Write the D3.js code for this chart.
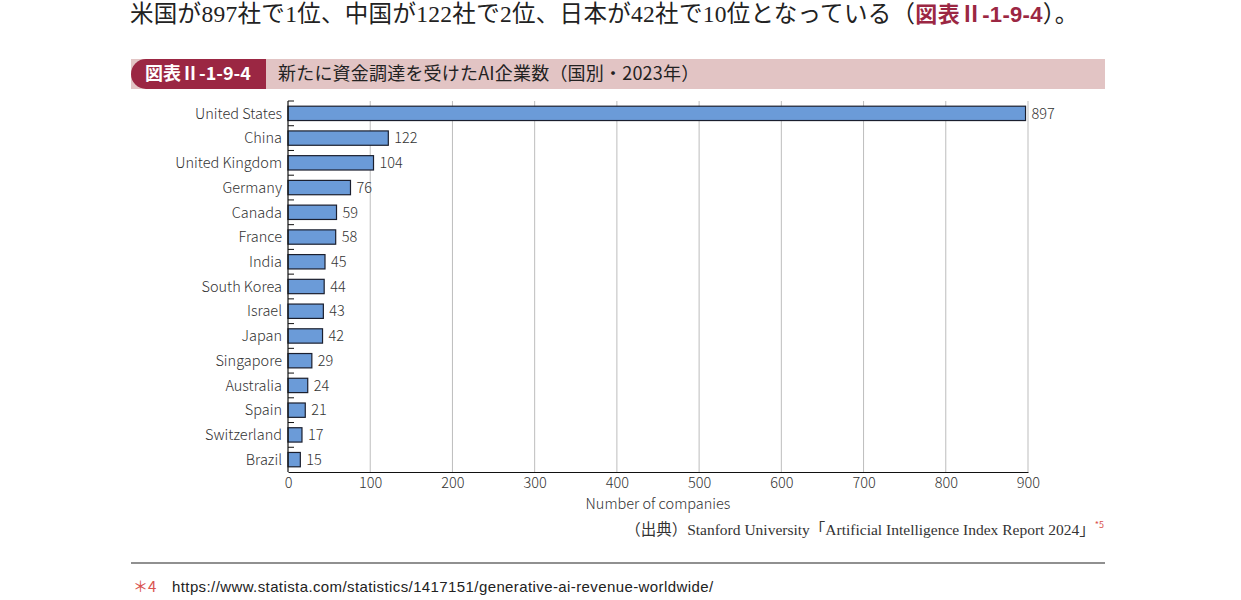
<!DOCTYPE html>
<html>
<head>
<meta charset="utf-8">
<script src="https://cdn.jsdelivr.net/npm/d3@7"></script>
<style>
  body { margin: 0; background: #fff; }
  svg text { font-family: "Noto Sans CJK JP", "Noto Sans", sans-serif; }
  .thin { font-weight: 300; }
</style>
</head>
<body>
<div class="chart"></div>
<script>
// data
const countries = ['United States', 'China', 'United Kingdom', 'Germany', 'Canada', 'France', 'India',
  'South Korea', 'Israel', 'Japan', 'Singapore', 'Australia', 'Spain', 'Switzerland', 'Brazil'];
const companies = [897, 122, 104, 76, 59, 58, 45, 44, 43, 42, 29, 24, 21, 17, 15];
const xTicks = [0, 100, 200, 300, 400, 500, 600, 700, 800, 900];

const svg = d3.select('.chart')
  .append('svg')
  .attr('width', 1241)
  .attr('height', 600);

// running text above the figure
const lead = svg.append('text')
  .attr('x', 130)
  .attr('y', 22)
  .style('font-family', '"Liberation Serif", "Noto Sans CJK JP", serif')
  .style('font-size', '23.5px')
  .style('letter-spacing', '0.3px')
  .attr('fill', '#222');
lead.append('tspan').text('米国が897社で1位、中国が122社で2位、日本が42社で10位となっている（');
lead.append('tspan').attr('fill', '#9b2743').style('font-family', '"Liberation Sans", "Noto Sans CJK JP", sans-serif')
  .style('font-weight', 'bold').style('font-size', '22px').text('図表Ⅱ-1-9-4');
lead.append('tspan').text('）。');

// title band
svg.append('rect')
  .attr('x', 131).attr('y', 59)
  .attr('width', 974).attr('height', 30)
  .attr('fill', '#e2c4c4');
svg.append('path')
  .attr('d', 'M266,59 H146 A15,15 0 0 0 146,89 H266 Z')
  .attr('fill', '#9b2743');
svg.append('text')
  .attr('x', 145).attr('y', 80)
  .attr('fill', '#fff')
  .style('font-size', '18px')
  .style('font-weight', 'bold')
  .text('図表Ⅱ-1-9-4');
svg.append('text')
  .attr('x', 278).attr('y', 80)
  .attr('fill', '#222')
  .style('font-size', '18px')
  .style('letter-spacing', '0.2px')
  .text('新たに資金調達を受けたAI企業数（国別・2023年）');

// plot area
const pLeft = 288, pRight = 1028, pTop = 101, pBottom = 472;

const x = d3.scaleLinear().domain([0, 900]).range([pLeft, pRight]);
const y = d3.scaleBand().domain(countries).range([pTop, pBottom]).paddingInner(0.42).paddingOuter(0.21);

// grid lines
svg.append('g')
  .selectAll('line')
  .data(xTicks.slice(1))
  .enter()
  .append('line')
  .attr('x1', d => x(d)).attr('x2', d => x(d))
  .attr('y1', pTop).attr('y2', pBottom)
  .attr('stroke', '#bdbdbd')
  .attr('stroke-width', 1);

// bars
svg.append('g')
  .selectAll('rect')
  .data(countries)
  .enter()
  .append('rect')
  .attr('x', x(0))
  .attr('y', d => y(d))
  .attr('width', (d, i) => x(companies[i]) - x(0))
  .attr('height', y.bandwidth())
  .attr('fill', '#6b9bd8')
  .attr('stroke', '#1b1f2e')
  .attr('stroke-width', 1.2);

// value labels
svg.append('g')
  .selectAll('text')
  .data(countries)
  .enter()
  .append('text')
  .attr('class', 'thin')
  .attr('x', (d, i) => x(companies[i]) + 6)
  .attr('y', d => y(d) + y.bandwidth() / 2)
  .attr('dy', '0.36em')
  .attr('fill', '#333')
  .style('font-size', '14.5px')
  .text((d, i) => companies[i]);

// category axis: labels + ticks at band edges pointing inward
const step = y.step();
svg.append('g')
  .selectAll('text')
  .data(countries)
  .enter()
  .append('text')
  .attr('class', 'thin')
  .attr('x', pLeft - 6)
  .attr('y', d => y(d) + y.bandwidth() / 2)
  .attr('dy', '0.36em')
  .attr('text-anchor', 'end')
  .attr('fill', '#333')
  .style('font-size', '14.5px')
  .text(d => d);

svg.append('g')
  .selectAll('line')
  .data(d3.range(countries.length))
  .enter()
  .append('line')
  .attr('x1', pLeft).attr('x2', pLeft + 6)
  .attr('y1', i => pTop + i * step).attr('y2', i => pTop + i * step)
  .attr('stroke', '#111');

svg.append('line')
  .attr('x1', pLeft).attr('x2', pLeft)
  .attr('y1', pTop).attr('y2', pBottom)
  .attr('stroke', '#111').attr('stroke-width', 1.2);

// x axis
const xAxis = svg.append('g')
  .attr('transform', `translate(0,${pBottom})`)
  .call(d3.axisBottom(x).tickValues(xTicks).tickSize(0).tickPadding(6));
xAxis.select('.domain').attr('stroke', '#111').attr('stroke-width', 1.2);
xAxis.selectAll('text')
  .attr('class', 'thin')
  .attr('fill', '#333')
  .style('font-size', '14.5px')
  .style('font-family', '"Noto Sans CJK JP", "Noto Sans", sans-serif');

svg.append('text')
  .attr('class', 'thin')
  .attr('x', (pLeft + pRight) / 2)
  .attr('y', 509)
  .attr('text-anchor', 'middle')
  .attr('fill', '#333')
  .style('font-size', '14.5px')
  .text('Number of companies');

// source with superscript note mark
const src = svg.append('text')
  .attr('x', 1104)
  .attr('y', 535)
  .attr('text-anchor', 'end')
  .style('font-family', '"Liberation Serif", "Noto Sans CJK JP", serif')
  .style('font-size', '15.5px')
  .attr('fill', '#333');
src.append('tspan').text('（出典）Stanford University「Artificial Intelligence Index Report 2024」');
src.append('tspan')
  .attr('dy', -7)
  .attr('fill', '#d9534f')
  .style('font-family', '"Noto Sans CJK JP", sans-serif')
  .style('font-size', '9px')
  .text('*5');

// footnote rule and note
svg.append('line')
  .attr('x1', 131).attr('x2', 1105)
  .attr('y1', 563).attr('y2', 563)
  .attr('stroke', '#222').attr('stroke-width', 1.2);

svg.append('text')
  .attr('x', 133).attr('y', 592)
  .attr('fill', '#d9534f')
  .style('font-size', '15px')
  .text('＊4');
svg.append('text')
  .attr('x', 172).attr('y', 592)
  .attr('fill', '#222')
  .style('font-family', '"Liberation Sans", Arial, sans-serif')
  .style('font-size', '15px')
  .style('letter-spacing', '0.4px')
  .text('https://www.statista.com/statistics/1417151/generative-ai-revenue-worldwide/');
</script>
</body>
</html>
